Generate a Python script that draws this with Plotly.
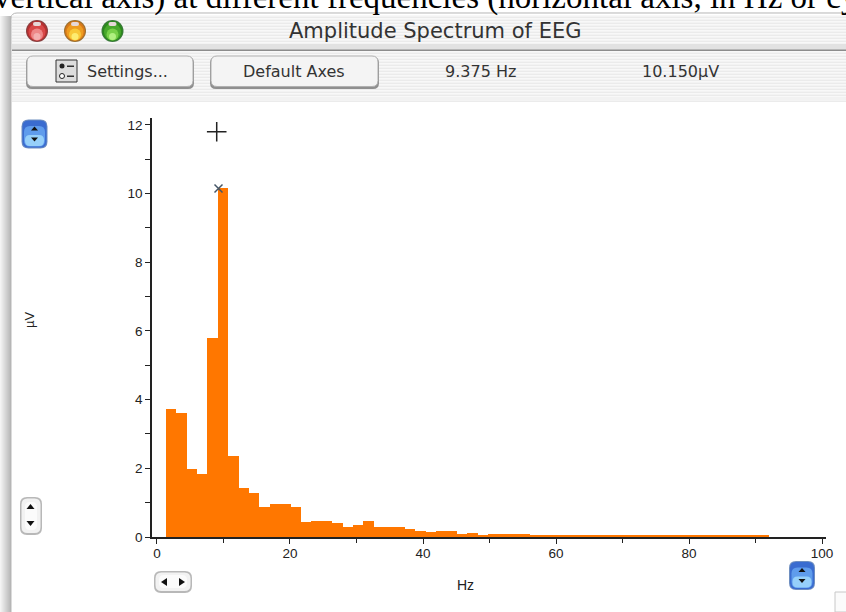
import plotly.graph_objects as go

# ---- data ----
bin_hz = [1.5625, 3.125, 4.6875, 6.25, 7.8125, 9.375, 10.9375, 12.5, 14.0625, 15.625,
          17.1875, 18.75, 20.3125, 21.875, 23.4375, 25.0, 26.5625, 28.125, 29.6875, 31.25,
          32.8125, 34.375, 35.9375, 37.5, 39.0625, 40.625, 42.1875, 43.75, 45.3125, 46.875,
          48.4375, 50.0, 51.5625, 53.125, 54.6875, 56.25, 57.8125, 59.375, 60.9375, 62.5,
          64.0625, 65.625, 67.1875, 68.75, 70.3125, 71.875, 73.4375, 75.0, 76.5625, 78.125,
          79.6875, 81.25, 82.8125, 84.375, 85.9375, 87.5, 89.0625, 90.625]
amplitude_uv = [3.72, 3.62, 1.97, 1.82, 5.80, 10.15, 2.35, 1.42, 1.28, 0.88,
                0.97, 0.97, 0.88, 0.43, 0.48, 0.48, 0.40, 0.30, 0.34, 0.48,
                0.28, 0.28, 0.28, 0.23, 0.18, 0.14, 0.18, 0.18, 0.08, 0.13,
                0.04, 0.08, 0.08, 0.08, 0.08, 0.04, 0.04, 0.04, 0.04, 0.04,
                0.04, 0.04, 0.04, 0.04, 0.04, 0.04, 0.04, 0.04, 0.04, 0.04,
                0.04, 0.04, 0.04, 0.04, 0.04, 0.04, 0.04, 0.04]
cursor_hz = [8.98]
cursor_uv = [11.8]
peak_hz = [9.25]
peak_uv = [10.15]

W, H = 846, 612
L, R, T, B = 152, 826, 118, 537
px = lambda x: (x - L) / (R - L)
py = lambda y: (B - y) / (B - T)

shapes, notes = [], []


def rect(x0, y0, x1, y1, fill, line=None, lw=0):
    shapes.append(dict(type="rect", xref="paper", yref="paper", layer="below",
                       x0=px(x0), x1=px(x1), y0=py(y0), y1=py(y1), fillcolor=fill,
                       line=dict(color=line or fill, width=lw)))


def circle(cx, cy, r, fill, line=None, lw=0):
    shapes.append(dict(type="circle", xref="paper", yref="paper", layer="below",
                       x0=px(cx - r), x1=px(cx + r), y0=py(cy + r), y1=py(cy - r),
                       fillcolor=fill, line=dict(color=line or fill, width=lw)))


def rrect(x0, y0, x1, y1, r, fill, line=None, lw=0):
    p = lambda x, y: f"{px(x):.5f},{py(y):.5f}"
    path = (f"M{p(x0 + r, y0)} L{p(x1 - r, y0)} Q{p(x1, y0)} {p(x1, y0 + r)} "
            f"L{p(x1, y1 - r)} Q{p(x1, y1)} {p(x1 - r, y1)} L{p(x0 + r, y1)} "
            f"Q{p(x0, y1)} {p(x0, y1 - r)} L{p(x0, y0 + r)} Q{p(x0, y0)} {p(x0 + r, y0)} Z")
    shapes.append(dict(type="path", xref="paper", yref="paper", layer="below", path=path,
                       fillcolor=fill, line=dict(color=line or fill, width=lw)))


def tri(pts, fill="#111111"):
    path = "M" + " L".join(f"{px(x):.5f},{py(y):.5f}" for x, y in pts) + " Z"
    shapes.append(dict(type="path", xref="paper", yref="paper", layer="below", path=path,
                       fillcolor=fill, line=dict(color=fill, width=0)))


def note(x, y, text, size, color="#222222", family="DejaVu Sans", angle=0, anchor="center"):
    notes.append(dict(xref="paper", yref="paper", x=px(x), y=py(y), text=text, showarrow=False,
                      xanchor=anchor, yanchor="middle", textangle=angle,
                      font=dict(size=size, color=color, family=family)))


# window shadow on the left edge
for i, c in enumerate(["#f4f4f4", "#eeeeee", "#e8e8e8", "#e2e2e2", "#dcdcdc", "#d6d6d6",
                       "#d0d0d0", "#cacaca", "#c4c4c4", "#bebebe", "#b8b8b8"]):
    rect(i, 16, i + 1, 612, c)
# window body
rrect(11, 13, 860, 640, 6, "#ffffff", "#b5b5b5", 1)
# pinstripes
for y in range(15, 100, 3):
    rect(12, y, 846, y + 1.5, "#f8f8f8")
    rect(12, y + 1.5, 846, y + 3, "#ebebeb")
rect(12, 44, 846, 50, "#e2e2e2")
rect(12, 49.5, 846, 51, "#8c8c8c")
rect(12, 97, 846, 100, "#f2f2f2")

# traffic lights
for cx, rim, dark, mid, light, glow in [
        (37, "#8a4040", "#b83030", "#d84848", "#ee8888", "#f4b0b0"),
        (75, "#9a7030", "#d87818", "#ee9c20", "#f8c838", "#fdec70"),
        (112.5, "#3a7a3a", "#2c8a1c", "#48a82c", "#78d048", "#b0f080")]:
    circle(cx, 31, 11, rim)
    circle(cx, 31, 10, dark)
    circle(cx, 32, 8.5, mid)
    circle(cx, 34.5, 6, light)
    circle(cx, 36.5, 3.5, glow)
    rrect(cx - 4, 22, cx + 4, 26, 2, "#e6d8d8")

# toolbar buttons
for x0, x1 in [(26, 194), (210, 379)]:
    rrect(x0, 57, x1, 89, 6, "#8f8f8f")
    rrect(x0 + 1, 56, x1 - 1, 86.5, 6, "#f4f4f4", "#b0b0b0", 1)
rect(56, 60, 77, 82, "#dddddd", "#333333", 1)
circle(62, 66, 2.5, "#222222")
circle(62, 76, 2.5, "#ffffff", "#222222", 1)
rect(67, 65.5, 74, 67, "#333333")
rect(67, 75.5, 74, 77, "#333333")

# blue steppers
for cx, cy in [(34.5, 134), (802, 575.5)]:
    rrect(cx - 13, cy - 14.5, cx + 13, cy + 14.5, 7, "#6f8fc0")
    rrect(cx - 12, cy - 13.5, cx + 12, cy + 13.5, 6, "#3a6cd0")
    rrect(cx - 10.5, cy - 8, cx + 10.5, cy + 12.5, 6, "#5f9cec")
    rrect(cx - 9.5, cy + 1, cx + 9.5, cy + 12, 5, "#96d0fa")
    tri([(cx - 3.5, cy - 3.5), (cx + 3.5, cy - 3.5), (cx, cy - 7.5)])
    tri([(cx - 3.5, cy + 3.5), (cx + 3.5, cy + 3.5), (cx, cy + 7.5)])

# grey steppers
rrect(20, 497, 42, 535, 7, "#b8b8b8")
rrect(21.5, 498.5, 40.5, 533, 6, "#f2f2f2")
rrect(25, 502, 37, 530, 5, "#fbfbfb")
tri([(26.5, 509), (34.5, 509), (30.5, 504)])
tri([(26.5, 521), (34.5, 521), (30.5, 526)])
rrect(154, 571, 192, 593, 7, "#b8b8b8")
rrect(155.5, 572.5, 190.5, 591, 6, "#f2f2f2")
rrect(159, 575, 187, 588, 5, "#fbfbfb")
tri([(167, 578), (167, 586), (161, 582)])
tri([(179, 578), (179, 586), (185, 582)])

# grow box corner
rect(835, 592, 850, 612, "#fbfbfb", "#c8c8c8", 1)

# texts of the window
note(-8, -3, "vertical axis) at different frequencies (horizontal axis, in Hz or cycles", 33,
     "#000000", "Liberation Serif", anchor="left")
note(435, 31, "Amplitude Spectrum of EEG", 21, "#333333", "DejaVu Sans")
note(127, 72, "Settings...", 16, "#333333")
note(294, 72, "Default Axes", 16, "#333333")
note(480, 72, "9.375 Hz", 16, "#333333")
note(680, 72, "10.150µV", 16, "#333333")
note(29, 320, "µV", 13, "#222222", "Liberation Sans", angle=-90)
note(465, 585, "Hz", 14, "#222222", "Liberation Sans")

fig = go.Figure()
fig.add_bar(x=bin_hz, y=amplitude_uv, width=1.5625, offset=-0.23,
            marker=dict(color="#ff7700", line=dict(width=0)), showlegend=False)
fig.add_scatter(x=cursor_hz, y=cursor_uv, mode="markers", showlegend=False,
                marker=dict(symbol="cross-thin", size=14, line=dict(color="#222222", width=1.5)))
fig.add_scatter(x=peak_hz, y=peak_uv, mode="markers", showlegend=False,
                marker=dict(symbol="x-thin", size=8, line=dict(color="#445566", width=1.5)))

axis_font = dict(family="Liberation Sans", size=13.5, color="#222222")
fig.update_layout(
    width=W, height=H, autosize=False, bargap=0,
    margin=dict(l=L, r=W - R, t=T, b=H - B, pad=0),
    paper_bgcolor="#ffffff", plot_bgcolor="#ffffff",
    shapes=shapes, annotations=notes,
    xaxis=dict(range=[-0.75, 100.6], tick0=0, dtick=20, ticks="outside", ticklen=5, tickwidth=1.2,
               tickcolor="#222222", showgrid=False, zeroline=False, showline=True, linecolor="#222222",
               linewidth=1.5, tickfont=axis_font, ticklabelstandoff=-2,
               minor=dict(tick0=0, dtick=10, ticks="outside", ticklen=4, tickcolor="#222222", showgrid=False)),
    yaxis=dict(range=[0, 12.2], tick0=0, dtick=2, ticks="outside", ticklen=5, tickwidth=1.2,
               tickcolor="#222222", showgrid=False, zeroline=False, showline=True, linecolor="#222222",
               linewidth=1.5, tickfont=axis_font,
               minor=dict(tick0=0, dtick=1, ticks="outside", ticklen=5, tickcolor="#222222", showgrid=False)),
)
fig.write_html("out.html", config={"displayModeBar": False},
               post_script="document.body.style.margin='0';")
